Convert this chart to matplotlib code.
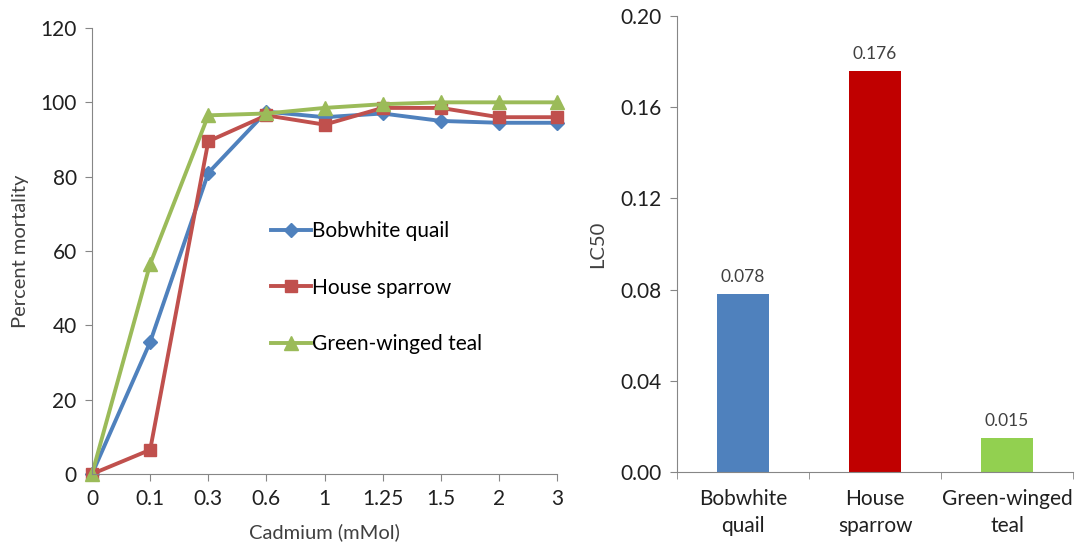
import numpy as np
import matplotlib.pyplot as plt

plt.rcParams['font.family'] = ['Lato', 'DejaVu Sans']

doses = ['0', '0.1', '0.3', '0.6', '1', '1.25', '1.5', '2', '3']
quail = [0, 35.5, 81, 97.5, 96, 97, 95, 94.5, 94.5]
sparrow = [0, 6.5, 89.5, 96.5, 94, 98.5, 98.5, 96, 96]
teal = [0, 56.5, 96.5, 97, 98.5, 99.5, 100, 100, 100]

species = ['Bobwhite\nquail', 'House\nsparrow', 'Green-winged\nteal']
lc50 = [0.078, 0.176, 0.015]
lc50_labels = ['0.078', '0.176', '0.015']

axis_grey = '#868686'
text_col = '#404040'

fig = plt.figure(figsize=(10.75, 5.46), dpi=100)

# left: mortality curves
ax1 = fig.add_axes([0.0856, 0.1319, 0.4326, 0.8168])
x = np.arange(len(doses))
ax1.plot(x, quail, color='#4F81BD', marker='D', markersize=7, lw=2.8, label='Bobwhite quail')
ax1.plot(x, sparrow, color='#C0504D', marker='s', markersize=9, lw=2.8, label='House sparrow')
ax1.plot(x, teal, color='#9BBB59', marker='^', markersize=10, lw=2.8, label='Green-winged teal')
ax1.set_xlim(0, len(doses) - 1)
ax1.set_ylim(0, 120)
ax1.set_xticks(x)
ax1.set_xticklabels(doses)
ax1.set_yticks(np.arange(0, 121, 20))
ax1.set_xlabel('Cadmium (mMol)', fontsize=14.5, color=text_col, labelpad=10)
ax1.set_ylabel('Percent mortality', fontsize=14.5, color=text_col, labelpad=8)
ax1.legend(loc='upper left', bbox_to_anchor=(0.385, 0.567), frameon=False, fontsize=15,
           handlelength=1.9, labelspacing=1.75, handletextpad=0.05, borderaxespad=0,
           borderpad=0)
for s in ['top', 'right']:
    ax1.spines[s].set_visible(False)
for s in ['left', 'bottom']:
    ax1.spines[s].set_color(axis_grey)
ax1.tick_params(colors=axis_grey, labelcolor='#202020', labelsize=15, length=5, pad=6)
for line in ax1.lines:
    line.set_clip_on(False)

# right: LC50 bars
ax2 = fig.add_axes([0.6298, 0.1355, 0.3684, 0.835])
xb = np.arange(len(species))
ax2.bar(xb, lc50, width=0.4, color=['#4F81BD', '#C00000', '#92D050'])
for xi, v, lab in zip(xb, lc50, lc50_labels):
    ax2.text(xi, v + 0.004, lab, ha='center', va='bottom', fontsize=12.5, color=text_col)
ax2.set_xlim(-0.5, 2.5)
ax2.set_ylim(0, 0.20)
ax2.set_yticks(np.arange(0, 0.201, 0.04))
ax2.set_yticklabels(['%.2f' % v for v in np.arange(0, 0.201, 0.04)])
ax2.set_xticks(xb)
ax2.set_xticklabels(species, linespacing=1.45)
ax2.set_xticks(np.arange(-0.5, 2.6, 1), minor=True)
ax2.set_ylabel('LC50', fontsize=14.5, color=text_col, labelpad=10)
for s in ['top', 'right']:
    ax2.spines[s].set_visible(False)
for s in ['left', 'bottom']:
    ax2.spines[s].set_color(axis_grey)
ax2.tick_params(axis='y', colors=axis_grey, labelcolor='#202020', labelsize=15, length=5, pad=6)
ax2.tick_params(axis='x', which='major', length=0, labelcolor='#202020', labelsize=15, pad=12)
ax2.tick_params(axis='x', which='minor', colors=axis_grey, length=5)

fig.savefig('out.png', dpi=100)
